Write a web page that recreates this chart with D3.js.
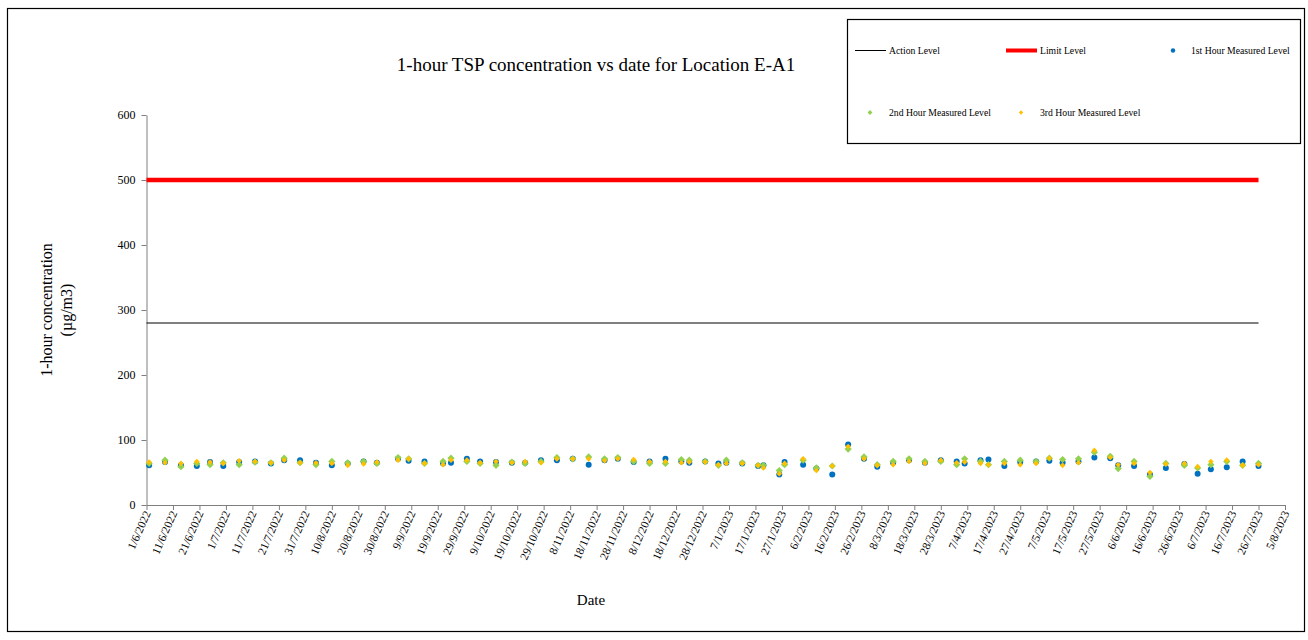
<!DOCTYPE html>
<html>
<head>
<meta charset="utf-8">
<script src="https://cdn.jsdelivr.net/npm/d3@7"></script>
<style>
  body { margin: 0; background: #fff; }
  text { font-family: "Liberation Serif", "Times New Roman", serif; fill: #000; }
</style>
</head>
<body>
<div id="chart"></div>
<script>
var dates = ["2/6/2022","8/6/2022","14/6/2022","20/6/2022","25/6/2022","30/6/2022","6/7/2022","12/7/2022","18/7/2022","23/7/2022",
  "29/7/2022","4/8/2022","10/8/2022","16/8/2022","22/8/2022","27/8/2022","4/9/2022","8/9/2022","14/9/2022","21/9/2022",
  "24/9/2022","30/9/2022","5/10/2022","11/10/2022","17/10/2022","22/10/2022","28/10/2022","3/11/2022","9/11/2022","15/11/2022",
  "21/11/2022","26/11/2022","2/12/2022","8/12/2022","14/12/2022","20/12/2022","23/12/2022","29/12/2022","3/1/2023","6/1/2023",
  "12/1/2023","18/1/2023","20/1/2023","26/1/2023","28/1/2023","4/2/2023","9/2/2023","15/2/2023","21/2/2023","27/2/2023",
  "4/3/2023","10/3/2023","16/3/2023","22/3/2023","28/3/2023","3/4/2023","6/4/2023","12/4/2023","15/4/2023","21/4/2023",
  "27/4/2023","3/5/2023","8/5/2023","13/5/2023","19/5/2023","25/5/2023","31/5/2023","3/6/2023","9/6/2023","15/6/2023",
  "21/6/2023","28/6/2023","3/7/2023","8/7/2023","14/7/2023","20/7/2023","26/7/2023"];

var hour1 = [61,66,61,60,66,60,66,67,64,69, 69,65,61,64,67,65,71,68,67,64,
  65,71,67,66,65,65,69,69,71,62, 69,71,66,67,71,67,65,67,64,65,
  64,60,61,47,66,62,56,47,93,71, 59,65,69,65,69,67,64,69,70,60,
  66,67,68,65,67,73,72,61,60,47, 57,63,48,55,58,67,60];

var hour2 = [64,69,59,64,62,65,62,66,65,72, 65,62,67,65,67,64,73,71,64,67,
  72,67,64,61,66,64,67,73,71,74, 71,73,67,64,64,70,69,67,61,69,
  65,61,61,53,62,69,57,60,86,74, 62,67,71,67,67,62,71,67,62,67,
  69,67,72,70,71,81,75,56,67,44, 64,61,57,62,67,61,64];

var hour3 = [66,65,64,67,66,64,68,67,65,69, 65,65,64,61,63,66,69,71,64,62,
  69,69,65,67,65,67,65,71,71,71, 68,71,70,67,67,65,66,66,62,64,
  64,61,57,48,64,71,53,60,90,71, 61,62,67,64,69,65,66,64,62,64,
  62,64,72,61,65,84,73,62,64,50, 63,64,59,67,69,61,62];

var levelDates = ["1/6/2022", "26/7/2023"];
var actionLevel = [280, 280];
var limitLevel = [500, 500];

var tickLabels = ["1/6/2022","11/6/2022","21/6/2022","1/7/2022","11/7/2022","21/7/2022","31/7/2022","10/8/2022","20/8/2022","30/8/2022",
  "9/9/2022","19/9/2022","29/9/2022","9/10/2022","19/10/2022","29/10/2022","8/11/2022","18/11/2022","28/11/2022","8/12/2022",
  "18/12/2022","28/12/2022","7/1/2023","17/1/2023","27/1/2023","6/2/2023","16/2/2023","26/2/2023","8/3/2023","18/3/2023",
  "28/3/2023","7/4/2023","17/4/2023","27/4/2023","7/5/2023","17/5/2023","27/5/2023","6/6/2023","16/6/2023","26/6/2023",
  "6/7/2023","16/7/2023","26/7/2023","5/8/2023"];
var yTicks = [0, 100, 200, 300, 400, 500, 600];

var parse = d3.utcParse("%d/%m/%Y");
var fmt = function(d) { return d.getUTCDate() + "/" + (d.getUTCMonth() + 1) + "/" + d.getUTCFullYear(); };

var W = 1308, H = 640;
var margin = {top: 115, left: 146.5, right: 23, bottom: 135};
var width = 1285 - margin.left, height = 505 - margin.top;

var svg = d3.select("#chart").append("svg")
  .attr("width", W).attr("height", H);

// outer frame
svg.append("rect")
  .attr("x", 7.5).attr("y", 8.5).attr("width", 1297).attr("height", 623)
  .attr("fill", "none").attr("stroke", "#000").attr("stroke-width", 1.2);

var x = d3.scaleUtc()
  .domain([parse(tickLabels[0]), parse(tickLabels[tickLabels.length - 1])])
  .range([0, width]);
var y = d3.scaleLinear().domain([0, 600]).range([height, 0]);

var g = svg.append("g").attr("transform", "translate(" + margin.left + "," + margin.top + ")");

// title
svg.append("text")
  .attr("x", 596).attr("y", 71)
  .attr("text-anchor", "middle")
  .style("font-size", "19px")
  .text("1-hour TSP concentration vs date for Location E-A1");

// y axis
var yAxis = g.append("g")
  .call(d3.axisLeft(y).tickValues(yTicks).tickSize(5).tickSizeOuter(0));
yAxis.select(".domain").attr("stroke", "#7f7f7f");
yAxis.selectAll(".tick line").attr("stroke", "#7f7f7f");
yAxis.selectAll(".tick text")
  .attr("x", -11)
  .style("font-family", "Liberation Serif, serif").style("font-size", "12px");

// x axis
var xAxis = g.append("g")
  .attr("transform", "translate(0," + height + ")")
  .call(d3.axisBottom(x).tickValues(tickLabels.map(parse)).tickFormat(fmt).tickSize(5).tickSizeOuter(0));
xAxis.select(".domain").attr("stroke", "#7f7f7f");
xAxis.selectAll(".tick line").attr("stroke", "#7f7f7f");
xAxis.selectAll(".tick text")
  .attr("y", 0).attr("dy", 0)
  .attr("transform", "translate(4,8) rotate(-66)")
  .style("text-anchor", "end")
  .style("font-family", "Liberation Serif, serif").style("font-size", "11.5px");

// axis titles
svg.append("text")
  .attr("x", 591).attr("y", 605)
  .attr("text-anchor", "middle")
  .style("font-size", "15px")
  .text("Date");

var yt = svg.append("text")
  .attr("transform", "translate(52,310) rotate(-90)")
  .attr("text-anchor", "middle")
  .style("font-size", "16px");
yt.append("tspan").attr("x", 0).attr("dy", 0).text("1-hour concentration");
yt.append("tspan").attr("x", 0).attr("dy", 20).text("(µg/m3)");

// level lines
var levelLine = function(vals) {
  return d3.line()
    .x(function(d, i) { return x(parse(levelDates[i])); })
    .y(function(d) { return y(d); })(vals);
};
g.append("path").attr("d", levelLine(actionLevel))
  .attr("fill", "none").attr("stroke", "#000").attr("stroke-width", 1);
g.append("path").attr("d", levelLine(limitLevel))
  .attr("fill", "none").attr("stroke", "#ff0000").attr("stroke-width", 4.5);

// measured points
var diamond = function(s) { return "M0," + (-s) + "L" + s + ",0L0," + s + "L" + (-s) + ",0Z"; };

g.selectAll(".h1").data(hour1).enter().append("circle")
  .attr("class", "h1")
  .attr("cx", function(d, i) { return x(parse(dates[i])); })
  .attr("cy", function(d) { return y(d); })
  .attr("r", 3)
  .attr("fill", "#0070c0");

g.selectAll(".h2").data(hour2).enter().append("path")
  .attr("class", "h2")
  .attr("transform", function(d, i) { return "translate(" + x(parse(dates[i])) + "," + y(d) + ")"; })
  .attr("d", diamond(3.6))
  .attr("fill", "#92d050");

g.selectAll(".h3").data(hour3).enter().append("path")
  .attr("class", "h3")
  .attr("transform", function(d, i) { return "translate(" + x(parse(dates[i])) + "," + y(d) + ")"; })
  .attr("d", diamond(2.8))
  .attr("fill", "#ffc000");

// legend
var lg = svg.append("g");
lg.append("rect")
  .attr("x", 847.5).attr("y", 19.5).attr("width", 453).attr("height", 124)
  .attr("fill", "#fff").attr("stroke", "#000").attr("stroke-width", 1.2);

var legendItems = [
  {label: "Action Level", type: "line", color: "#000", w: 1, sx: 855, tx: 889, ty: 51},
  {label: "Limit Level", type: "line", color: "#ff0000", w: 4, sx: 1006, tx: 1040, ty: 51},
  {label: "1st Hour Measured Level", type: "circle", color: "#0070c0", sx: 1173, tx: 1191, ty: 51},
  {label: "2nd Hour Measured Level", type: "diamond", color: "#92d050", s: 2.4, sx: 870, tx: 889, ty: 113},
  {label: "3rd Hour Measured Level", type: "diamond", color: "#ffc000", s: 2.2, sx: 1021, tx: 1040, ty: 113}
];
legendItems.forEach(function(it) {
  if (it.type === "line") {
    lg.append("line").attr("x1", it.sx).attr("x2", it.sx + 31).attr("y1", it.ty - 0.5).attr("y2", it.ty - 0.5)
      .attr("stroke", it.color).attr("stroke-width", it.w);
  } else if (it.type === "circle") {
    lg.append("circle").attr("cx", it.sx).attr("cy", it.ty - 0.5).attr("r", 2.2).attr("fill", it.color);
  } else {
    lg.append("path").attr("transform", "translate(" + it.sx + "," + (it.ty - 0.5) + ")")
      .attr("d", diamond(it.s)).attr("fill", it.color);
  }
  lg.append("text").attr("x", it.tx).attr("y", it.ty + 3)
    .style("font-size", "9.7px").text(it.label);
});
</script>
</body>
</html>
